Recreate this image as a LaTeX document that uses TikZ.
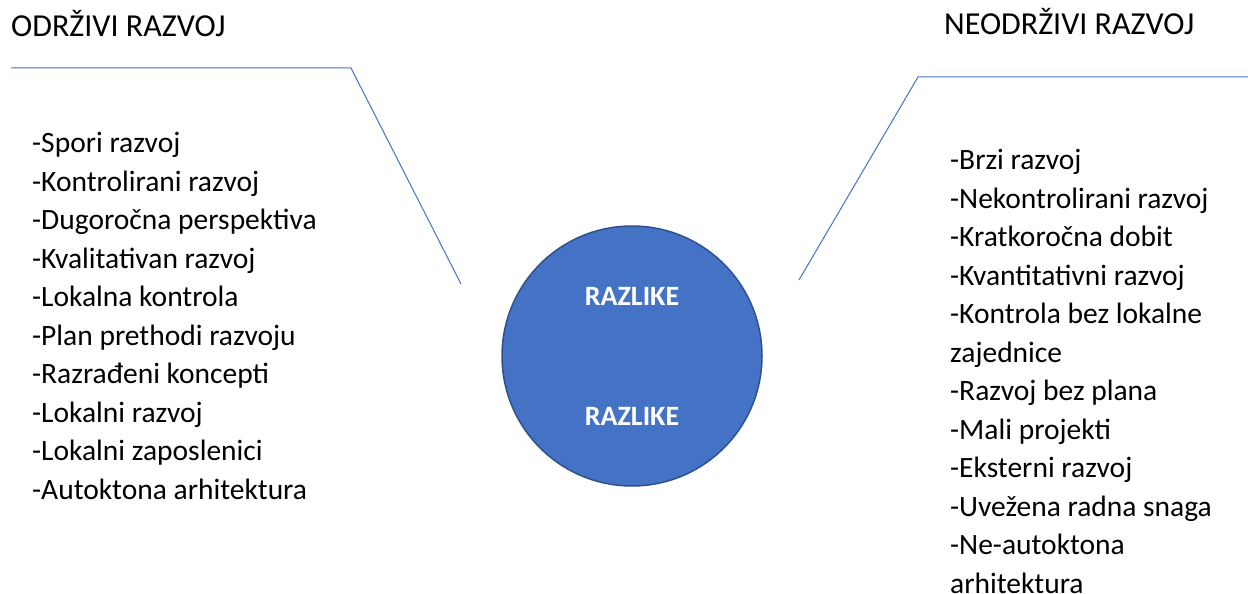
\documentclass[tikz,border=0pt]{standalone}
\usepackage{fontspec}
\setmainfont{Carlito}
\usetikzlibrary{positioning}

\definecolor{razblue}{RGB}{68,114,196}
\definecolor{razedge}{RGB}{47,82,143}

\begin{document}
\begin{tikzpicture}[x=1pt, y=-1pt]
        % Styles
        \tikzstyle{title} = [anchor=base west, inner sep=0pt, font=\fontsize{32}{38}\selectfont]
        \tikzstyle{list} = [anchor=north west, inner sep=0pt, align=left, font=\fontsize{29.5}{38.5}\selectfont]
        \tikzstyle{bubble} = [circle, draw=razedge, fill=razblue, line width=1.5pt, minimum size=260pt, inner sep=0pt]
        \tikzstyle{heading} = [text=white, inner sep=0pt, font=\fontsize{28}{30}\selectfont\bfseries]
        \tikzstyle{line} = [draw=razblue, line width=1pt]

        \useasboundingbox (0,0) rectangle (1248,594);

        % Titles
        \node (odrzivi) [title] at (11,37) {ODRŽIVI RAZVOJ};
        \node (neodrzivi) [title] at (944,35) {NEODRŽIVI RAZVOJ};

        % Corner points of the lines
        \coordinate (lA) at (11,68);
        \coordinate (lB) at (351,68);
        \coordinate (lC) at (461,284);
        \coordinate (rA) at (1248,77);
        \coordinate (rB) at (918,77);
        \coordinate (rC) at (799,280);

        \path [line] (lA) -- (lB) -- (lC);
        \path [line] (rA) -- (rB) -- (rC);

        % Circle in the middle
        \node (razlike) [bubble] at (632,356) {};
        \node (razTop) [heading] at ([yshift=60pt]razlike.center) {RAZLIKE};
        \node (razBottom) [heading] at ([yshift=-60pt]razlike.center) {RAZLIKE};

        % Lists
        \node (odrziviList) [list] at (32,132) {-Spori razvoj\\-Kontrolirani razvoj\\-Dugoročna perspektiva\\-Kvalitativan razvoj\\-Lokalna kontrola\\-Plan prethodi razvoju\\-Razrađeni koncepti\\-Lokalni razvoj\\-Lokalni zaposlenici\\-Autoktona arhitektura};
        \node (neodrziviList) [list] at (950,149) {-Brzi razvoj\\-Nekontrolirani razvoj\\-Kratkoročna dobit\\-Kvantitativni razvoj\\-Kontrola bez lokalne\\zajednice\\-Razvoj bez plana\\-Mali projekti\\-Eksterni razvoj\\-Uvežena radna snaga\\-Ne-autoktona\\arhitektura};

    \end{tikzpicture}
\end{document}
